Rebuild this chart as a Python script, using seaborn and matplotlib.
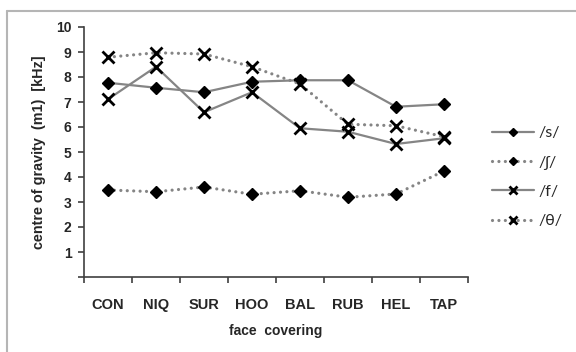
import numpy as np
import pandas as pd
import matplotlib
matplotlib.use("Agg")
import matplotlib.pyplot as plt
import seaborn as sns
from matplotlib.lines import Line2D

categories = ["CON", "NIQ", "SUR", "HOO", "BAL", "RUB", "HEL", "TAP"]
s_vals = [7.77, 7.57, 7.39, 7.81, 7.87, 7.87, 6.81, 6.91]
sh_vals = [3.48, 3.41, 3.60, 3.31, 3.45, 3.19, 3.32, 4.24]
f_vals = [7.11, 8.41, 6.59, 7.39, 5.95, 5.81, 5.32, 5.55]
th_vals = [8.79, 8.97, 8.92, 8.41, 7.72, 6.11, 6.05, 5.61]
series_names = ["/s/", "/ʃ/", "/f/", "/θ/"]
y_ticks = list(range(0, 11))

sns.set_theme(style="white")
plt.rcParams["font.family"] = ["Liberation Sans", "DejaVu Sans"]

fig = plt.figure(figsize=(5.76, 3.52), dpi=100)
W, H = 576, 352
ax = fig.add_axes([84 / W, 1 - 277 / H, (468 - 84) / W, (277 - 27) / H])

x = np.arange(len(categories))
gray = "#858585"
dotted = (0, (0.01, 2.0))
specs = [
    (s_vals, "D", 6.5, 1.0, "-", 1.6),
    (sh_vals, "D", 6.5, 1.0, dotted, 2.3),
    (f_vals, "x", 9, 2.0, "-", 1.6),
    (th_vals, "x", 9, 2.0, dotted, 2.3),
]
for name, (vals, mk, ms, mew, ls, lw) in zip(series_names, specs):
    sns.lineplot(x=x, y=vals, ax=ax, color=gray, linewidth=lw, linestyle=ls,
                 marker=mk, markersize=ms, markeredgewidth=mew,
                 markerfacecolor="black", markeredgecolor="black",
                 dash_capstyle="round", label=name)

ax.set_xlim(-0.5, len(categories) - 0.5)
ax.set_ylim(0, 10)
ax.set_yticks(y_ticks)
ax.set_yticklabels(["" if v == 0 else str(v) for v in y_ticks])
ax.set_xticks(x)
ax.set_xticklabels(categories)
ax.set_xticks(np.arange(len(categories) + 1) - 0.5, minor=True)
ax.tick_params(axis="x", which="major", length=0, pad=15)
ax.tick_params(axis="x", which="minor", length=4, direction="out", color="#404040", width=1.2, bottom=True)
ax.tick_params(axis="y", length=4, direction="out", color="#404040", width=1.2, left=True, pad=5)
for lab in ax.get_xticklabels():
    lab.set_fontweight("bold")
    lab.set_fontsize(10.5)
for lab in ax.get_yticklabels():
    lab.set_fontweight("bold")
    lab.set_fontsize(10)
ax.set_xlabel("face  covering", fontsize=10, fontweight="bold", labelpad=9)
ax.set_ylabel("centre of gravity  (m1)  [kHz]", fontsize=10.4, fontweight="bold", labelpad=7)
for side in ["top", "right"]:
    ax.spines[side].set_visible(False)
for side in ["left", "bottom"]:
    ax.spines[side].set_color("#404040")
    ax.spines[side].set_linewidth(1.2)
ax.grid(False)

leg = ax.legend(loc="upper left", bbox_to_anchor=(492 / W, 1 - 126 / H),
                bbox_transform=fig.transFigure, frameon=False, fontsize=11.5,
                handlelength=2.6, handletextpad=0.3, labelspacing=0.95,
                borderpad=0, borderaxespad=0, markerscale=0.65)
for t in leg.get_texts():
    t.set_family(["Lato", "DejaVu Sans"])

# outer chart-area border
fig.add_artist(Line2D([7 / W, 1], [1 - 11 / H, 1 - 11 / H], transform=fig.transFigure,
                      color="#b5b5b5", linewidth=1.5))
fig.add_artist(Line2D([7 / W, 7 / W], [0, 1 - 11 / H], transform=fig.transFigure,
                      color="#b5b5b5", linewidth=1.5))

fig.savefig("out.png", dpi=100, facecolor="white")
